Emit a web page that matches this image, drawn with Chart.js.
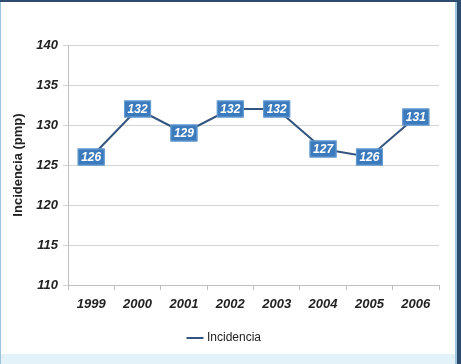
<!DOCTYPE html>
<html>
<head>
<meta charset="utf-8">
<script src="https://cdn.jsdelivr.net/npm/chart.js@4.4.0/dist/chart.umd.min.js"></script>
<style>
  html, body { margin: 0; padding: 0; background: #fff; }
  canvas { display: block; }
</style>
</head>
<body>
<canvas id="chart" width="461" height="364"></canvas>
<script>
const years = ["1999", "2000", "2001", "2002", "2003", "2004", "2005", "2006"];
const incidencia = [126, 132, 129, 132, 132, 127, 126, 131];
const seriesName = "Incidencia";
const axisTitle = "Incidencia (pmp)";

const tickFont = { family: "Liberation Sans", size: 13, weight: "bold", style: "italic" };

// frame around the picture
const framePlugin = {
  id: "frame",
  beforeDraw(chart) {
    const { ctx, width, height } = chart;
    ctx.save();
    ctx.fillStyle = "#fff";
    ctx.fillRect(0, 0, width, height);
    ctx.fillStyle = "#e3f1f8";
    ctx.fillRect(0, height - 10, width, 10);
    ctx.fillStyle = "#9cc4dc";
    ctx.fillRect(0, 0, 1, height);
    ctx.fillRect(width - 6, 0, 2, height);
    ctx.fillStyle = "#2d4b6e";
    ctx.fillRect(0, 0, width, 2);
    ctx.fillRect(width - 4, 0, 4, height);
    ctx.restore();
  }
};

// value boxes on each point
const boxLabels = {
  id: "boxLabels",
  afterDatasetsDraw(chart) {
    const { ctx } = chart;
    const meta = chart.getDatasetMeta(0);
    ctx.save();
    ctx.font = "bold italic 12px 'Liberation Sans'";
    ctx.textAlign = "center";
    ctx.textBaseline = "middle";
    meta.data.forEach((pt, i) => {
      const w = 27, h = 17;
      ctx.fillStyle = "#3b7bbd";
      ctx.fillRect(pt.x - w / 2, pt.y - h / 2, w, h);
      ctx.strokeStyle = "#6a9fd2";
      ctx.lineWidth = 1;
      ctx.strokeRect(pt.x - w / 2 + 0.5, pt.y - h / 2 + 0.5, w - 1, h - 1);
      ctx.fillStyle = "#fff";
      ctx.fillText(String(incidencia[i]), pt.x, pt.y + 1);
    });
    ctx.restore();
  }
};

new Chart(document.getElementById("chart"), {
  type: "line",
  data: {
    labels: years,
    datasets: [{
      label: seriesName,
      data: incidencia,
      borderColor: "#34557f",
      backgroundColor: "#34557f",
      borderWidth: 2,
      pointRadius: 0,
      tension: 0
    }]
  },
  options: {
    responsive: false,
    animation: false,
    layout: { padding: { left: 11, right: 22, top: 45, bottom: 10 } },
    plugins: {
      legend: {
        position: "bottom",
        labels: {
          usePointStyle: true,
          pointStyle: "line",
          boxWidth: 24,
          padding: 10,
          color: "#222",
          font: { family: "Liberation Sans", size: 12 }
        }
      },
      tooltip: { enabled: false }
    },
    scales: {
      x: {
        offset: true,
        grid: { offset: true, drawOnChartArea: false, drawTicks: true, tickLength: 5, color: "#bfbfbf" },
        border: { color: "#bfbfbf" },
        ticks: { color: "#222", font: tickFont, padding: 7 },
        afterFit(scale) { scale.height = 37; }
      },
      y: {
        min: 110,
        max: 140,
        ticks: { stepSize: 5, color: "#222", font: tickFont, padding: 5 },
        grid: { color: "#d4d4d4", tickLength: 5 },
        border: { color: "#bfbfbf" },
        title: {
          display: true,
          text: axisTitle,
          color: "#222",
          font: { family: "Liberation Sans", size: 13, weight: "bold" },
          padding: { top: 0, bottom: 4 }
        },
        afterFit(scale) { scale.width = 57; }
      }
    }
  },
  plugins: [framePlugin, boxLabels]
});
</script>
</body>
</html>
